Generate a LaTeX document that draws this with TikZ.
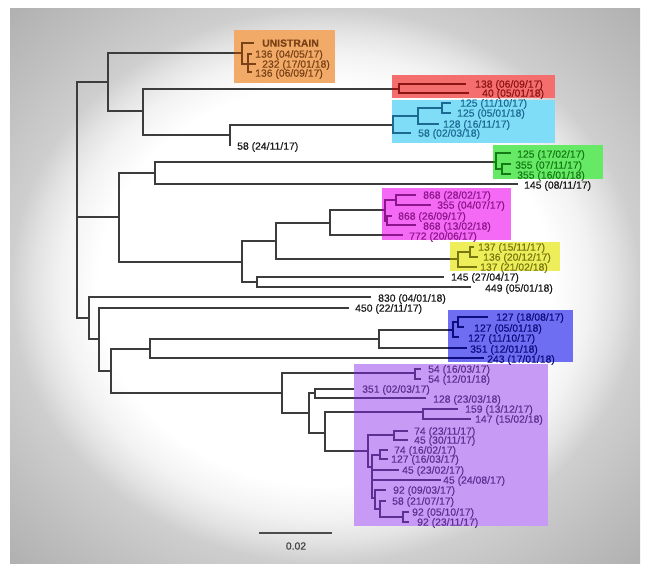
\documentclass[tikz,border=0pt]{standalone}
\usepackage{fontspec}
\setmainfont{Liberation Sans}[FakeBold=0.35]
\definecolor{treecol}{HTML}{3C3C3C}
\definecolor{labk}{HTML}{1A1A1A}
\definecolor{orbox}{HTML}{F2AA68}\definecolor{ortext}{HTML}{7A4216}
\definecolor{rdbox}{HTML}{F46E6E}\definecolor{rdtext}{HTML}{8E1414}
\definecolor{cybox}{HTML}{7FDDF7}\definecolor{cytext}{HTML}{1B6A92}
\definecolor{grbox}{HTML}{66EA66}\definecolor{grtext}{HTML}{167A16}
\definecolor{mgbox}{HTML}{F46AF4}\definecolor{mgtext}{HTML}{8C148C}
\definecolor{yebox}{HTML}{EEEE5A}\definecolor{yetext}{HTML}{77770F}
\definecolor{inbox}{HTML}{6E6EF2}\definecolor{intext}{HTML}{0D0D80}
\definecolor{pubox}{HTML}{C79BF5}\definecolor{putext}{HTML}{5E2E92}
\pgfdeclareradialshading{bgshade}{\pgfpoint{0bp}{0bp}}{color(0bp)=(white); color(18bp)=(white); color(21bp)=(black!5); color(23bp)=(black!11); color(25bp)=(black!19); color(30bp)=(black!25); color(35.5bp)=(black!31); color(50bp)=(black!31)}
\newcommand\lblfont{\fontsize{10.4}{12}\selectfont}
\tikzset{
  tl/.style={draw=treecol, line width=1.2pt, line cap=rect, line join=miter},
  lab/.style={anchor=base west, inner sep=0pt, yshift=-3.7pt, font=\lblfont, text=labk},
}
\newcommand\treedraw{%
\draw[tl] (R0) |- (A) (R0) |- (B) (R0) |- (C);
\draw[tl] (A) |- (U) (A) |- (A2);
\draw[tl] (U) |- (eUni) (U) |- (U2);
\draw[tl] (U2) |- (eU1) (U2) |- (eU2) (U2) |- (eU3);
\draw[tl] (A2) |- (RD) (A2) |- (A3);
\draw[tl] (RD) |- (eR1) (RD) |- (eR2);
\draw[tl] (A3) |- (CY) (A3) |- (eS58);
\draw[tl] (CY) |- (CY2) (CY) |- (eC4);
\draw[tl] (CY2) |- (CY3) (CY2) |- (eC3);
\draw[tl] (CY3) |- (eC1) (CY3) |- (eC2);
\draw[tl] (B) |- (B1) (B) |- (B2);
\draw[tl] (B1) |- (GR) (B1) |- (eG145);
\draw[tl] (GR) |- (eGr1) (GR) |- (GR2);
\draw[tl] (GR2) |- (eGr2) (GR2) |- (eGr3);
\draw[tl] (B2) |- (B3) (B2) |- (B4);
\draw[tl] (B3) |- (B5) (B3) |- (YE);
\draw[tl] (B5) |- (MG) (B5) |- (eM772);
\draw[tl] (MG) |- (MG1) (MG) |- (MG2);
\draw[tl] (MG1) |- (eM1) (MG1) |- (eM2);
\draw[tl] (MG2) |- (eM3) (MG2) |- (eM4);
\draw[tl] (YE) |- (YE1) (YE) |- (eY3);
\draw[tl] (YE1) |- (eY1) (YE1) |- (eY2);
\draw[tl] (B4) |- (eK145) (B4) |- (eK449);
\draw[tl] (C) |- (eC830) (C) |- (C1);
\draw[tl] (C1) |- (eC450) (C1) |- (C2);
\draw[tl] (C2) |- (C3) (C2) |- (PU);
\draw[tl] (C3) |- (C4) (C3) |- (eB243);
\draw[tl] (C4) |- (IN) (C4) |- (eB351);
\draw[tl] (IN) |- (IN1) (IN) |- (eB3);
\draw[tl] (IN1) |- (eB1) (IN1) |- (eB2);
\draw[tl] (PU) |- (PA) (PU) |- (PB);
\draw[tl] (PA) |- (eP1) (PA) |- (eP2);
\draw[tl] (PB) |- (PC) (PB) |- (PD);
\draw[tl] (PC) |- (eP3) (PC) |- (eP4);
\draw[tl] (PD) |- (PE) (PD) |- (PQ);
\draw[tl] (PE) |- (eP5) (PE) |- (eP6);
\draw[tl] (PQ) |- (PR) (PQ) |- (PS);
\draw[tl] (PR) |- (eP7) (PR) |- (eP8);
\draw[tl] (PS) |- (PT) (PS) |- (eP11) (PS) |- (eP12) (PS) |- (PU2);
\draw[tl] (PT) |- (eP9) (PT) |- (eP10);
\draw[tl] (PU2) |- (eP13) (PU2) |- (PV);
\draw[tl] (PV) |- (eP14) (PV) |- (PW);
\draw[tl] (PW) |- (eP15) (PW) |- (eP16);
}
\newcommand\colourin[3]{%
\begin{scope}
\clip (#1) rectangle (#2);
\tikzset{tl/.style={draw=#3, line width=1.3pt, line cap=rect, line join=miter}}
\treedraw
\end{scope}}
\begin{document}
\begin{tikzpicture}[x=1pt,y=-1pt]
\useasboundingbox (0,0) rectangle (649,573);
\fill[white] (0,0) rectangle (649,573);
\shade[shading=bgshade] (10,8) rectangle (640,563);
% box corners
\coordinate (or1) at (234,30);  \coordinate (or2) at (335,83);
\coordinate (rd1) at (392,75);  \coordinate (rd2) at (555,98);
\coordinate (cy1) at (392,100); \coordinate (cy2) at (555,143);
\coordinate (gr1) at (493,145); \coordinate (gr2) at (603,179);
\coordinate (mg1) at (382,188); \coordinate (mg2) at (511,240);
\coordinate (ye1) at (450,242); \coordinate (ye2) at (560,271);
\coordinate (in1) at (448,310); \coordinate (in2) at (573,362);
\coordinate (pu1) at (354,364); \coordinate (pu2) at (548,526);
\fill[orbox] (or1) rectangle (or2);
\fill[rdbox] (rd1) rectangle (rd2);
\fill[cybox] (cy1) rectangle (cy2);
\fill[grbox] (gr1) rectangle (gr2);
\fill[mgbox] (mg1) rectangle (mg2);
\fill[yebox] (ye1) rectangle (ye2);
\fill[inbox] (in1) rectangle (in2);
\fill[pubox] (pu1) rectangle (pu2);
% tree nodes
\coordinate (R0) at (77,200);
\coordinate (A) at (108,82); \coordinate (B) at (119,217); \coordinate (C) at (89,318);
\coordinate (U) at (242,53); \coordinate (A2) at (143,111);
\coordinate (eUni) at (253,43); \coordinate (U2) at (248,64);
\coordinate (eU1) at (251,54); \coordinate (eU2) at (255,64); \coordinate (eU3) at (251,72);
\coordinate (RD) at (399,89); \coordinate (eR1) at (465,84); \coordinate (eR2) at (468,93);
\coordinate (A3) at (230,135); \coordinate (CY) at (393,125); \coordinate (eS58) at (230,145);
\coordinate (CY2) at (418,116); \coordinate (eC4) at (410,133);
\coordinate (CY3) at (442,108); \coordinate (eC3) at (438,124);
\coordinate (eC1) at (450,103); \coordinate (eC2) at (450,113);
\coordinate (B1) at (155,173); \coordinate (B2) at (242,262);
\coordinate (GR) at (496,162); \coordinate (eG145) at (517,184);
\coordinate (eGr1) at (510,153); \coordinate (GR2) at (502,169);
\coordinate (eGr2) at (510,164); \coordinate (eGr3) at (510,174);
\coordinate (B3) at (276,241); \coordinate (B4) at (257,282);
\coordinate (B5) at (330,223); \coordinate (YE) at (458,259);
\coordinate (MG) at (385,210); \coordinate (eM772) at (402,235);
\coordinate (MG1) at (396,200); \coordinate (MG2) at (387,221);
\coordinate (eM1) at (415,195); \coordinate (eM2) at (430,205);
\coordinate (eM3) at (391,216); \coordinate (eM4) at (415,225);
\coordinate (YE1) at (470,252); \coordinate (eY3) at (476,267);
\coordinate (eY1) at (473,247); \coordinate (eY2) at (477,257);
\coordinate (eK145) at (443,277); \coordinate (eK449) at (470,287);
\coordinate (eC830) at (370,297); \coordinate (C1) at (99,339);
\coordinate (eC450) at (348,308); \coordinate (C2) at (111,371);
\coordinate (C3) at (150,349); \coordinate (PU) at (282,393);
\coordinate (C4) at (379,339); \coordinate (eB243) at (483,358);
\coordinate (IN) at (453,330); \coordinate (eB351) at (466,348);
\coordinate (IN1) at (458,322); \coordinate (eB3) at (458,337);
\coordinate (eB1) at (487,317); \coordinate (eB2) at (463,327);
\coordinate (PA) at (415,373); \coordinate (PB) at (309,413);
\coordinate (eP1) at (420,369); \coordinate (eP2) at (420,379);
\coordinate (PC) at (315,393); \coordinate (PD) at (325,433);
\coordinate (eP3) at (353,389); \coordinate (eP4) at (425,398);
\coordinate (PE) at (423,412); \coordinate (PQ) at (368,451);
\coordinate (eP5) at (457,409); \coordinate (eP6) at (470,419);
\coordinate (PR) at (394,435); \coordinate (PS) at (372,467);
\coordinate (eP7) at (407,431); \coordinate (eP8) at (407,440);
\coordinate (PT) at (380,455); \coordinate (eP11) at (398,470);
\coordinate (eP12) at (440,480); \coordinate (PU2) at (375,498);
\coordinate (eP9) at (387,450); \coordinate (eP10) at (387,459);
\coordinate (eP13) at (385,490); \coordinate (PV) at (380,509);
\coordinate (eP14) at (385,501); \coordinate (PW) at (403,517);
\coordinate (eP15) at (408,512); \coordinate (eP16) at (408,522);
% tree
\treedraw
\colourin{or1}{or2}{ortext}
\colourin{rd1}{rd2}{rdtext}
\colourin{cy1}{cy2}{cytext}
\colourin{gr1}{gr2}{grtext}
\colourin{mg1}{mg2}{mgtext}
\colourin{ye1}{ye2}{yetext}
\colourin{in1}{in2}{intext}
\colourin{pu1}{pu2}{putext}
% labels
\node[lab,text=ortext,font=\lblfont\bfseries] (lUni) at (262,43) {UNISTRAIN};
\node[lab,text=ortext] (lU1) at (255,54) {136 (04/05/17)};
\node[lab,text=ortext] (lU2) at (262,64) {232 (17/01/18)};
\node[lab,text=ortext] (lU3) at (255,73) {136 (06/09/17)};
\node[lab,text=rdtext] (lR1) at (475,84) {138 (06/09/17)};
\node[lab,text=rdtext] (lR2) at (482,93) {40 (05/01/18)};
\node[lab,text=cytext] (lC1) at (460,103) {125 (11/10/17)};
\node[lab,text=cytext] (lC2) at (457,113) {125 (05/01/18)};
\node[lab,text=cytext] (lC3) at (443,124) {128 (16/11/17)};
\node[lab,text=cytext] (lC4) at (418,133) {58 (02/03/18)};
\node[lab] (lS58) at (237,146) {58 (24/11/17)};
\node[lab,text=grtext] (lG1) at (517,154) {125 (17/02/17)};
\node[lab,text=grtext] (lG2) at (515,165) {355 (07/11/17)};
\node[lab,text=grtext] (lG3) at (517,175) {355 (16/01/18)};
\node[lab] (lG145) at (524,185) {145 (08/11/17)};
\node[lab,text=mgtext] (lM1) at (423,195) {868 (28/02/17)};
\node[lab,text=mgtext] (lM2) at (437,205) {355 (04/07/17)};
\node[lab,text=mgtext] (lM3) at (398,216) {868 (26/09/17)};
\node[lab,text=mgtext] (lM4) at (423,226) {868 (13/02/18)};
\node[lab,text=mgtext] (lM5) at (409,236) {772 (20/06/17)};
\node[lab,text=yetext] (lY1) at (478,247) {137 (15/11/17)};
\node[lab,text=yetext] (lY2) at (483,257) {136 (20/12/17)};
\node[lab,text=yetext] (lY3) at (480,267) {137 (21/02/18)};
\node[lab] (lK145) at (451,277) {145 (27/04/17)};
\node[lab] (lK449) at (485,288) {449 (05/01/18)};
\node[lab] (l830) at (378,298) {830 (04/01/18)};
\node[lab] (l450) at (355,308) {450 (22/11/17)};
\node[lab,text=intext] (lB1) at (496,317) {127 (18/08/17)};
\node[lab,text=intext] (lB2) at (474,328) {127 (05/01/18)};
\node[lab,text=intext] (lB3) at (468,338) {127 (11/10/17)};
\node[lab,text=intext] (lB4) at (470,349) {351 (12/01/18)};
\node[lab,text=intext] (lB5) at (487,359) {243 (17/01/18)};
\node[lab,text=putext] (lP1) at (428,369) {54 (16/03/17)};
\node[lab,text=putext] (lP2) at (428,379) {54 (12/01/18)};
\node[lab,text=putext] (lP3) at (362,389) {351 (02/03/17)};
\node[lab,text=putext] (lP4) at (433,399) {128 (23/03/18)};
\node[lab,text=putext] (lP5) at (465,409) {159 (13/12/17)};
\node[lab,text=putext] (lP6) at (475,419) {147 (15/02/18)};
\node[lab,text=putext] (lP7) at (414,431) {74 (23/11/17)};
\node[lab,text=putext] (lP8) at (414,440) {45 (30/11/17)};
\node[lab,text=putext] (lP9) at (394,450) {74 (16/02/17)};
\node[lab,text=putext] (lP10) at (391,459) {127 (16/03/17)};
\node[lab,text=putext] (lP11) at (402,470) {45 (23/02/17)};
\node[lab,text=putext] (lP12) at (443,480) {45 (24/08/17)};
\node[lab,text=putext] (lP13) at (393,490) {92 (09/03/17)};
\node[lab,text=putext] (lP14) at (392,501) {58 (21/07/17)};
\node[lab,text=putext] (lP15) at (412,512) {92 (05/10/17)};
\node[lab,text=putext] (lP16) at (417,522) {92 (23/11/17)};
% scale bar
\coordinate (sb1) at (259,533); \coordinate (sb2) at (332,533);
\draw[draw=black!70, line width=1.5pt] (sb1) -- (sb2);
\node[font=\lblfont, text=black!75, inner sep=0pt] (sbl) at (296,546) {0.02};
\end{tikzpicture}
\end{document}
